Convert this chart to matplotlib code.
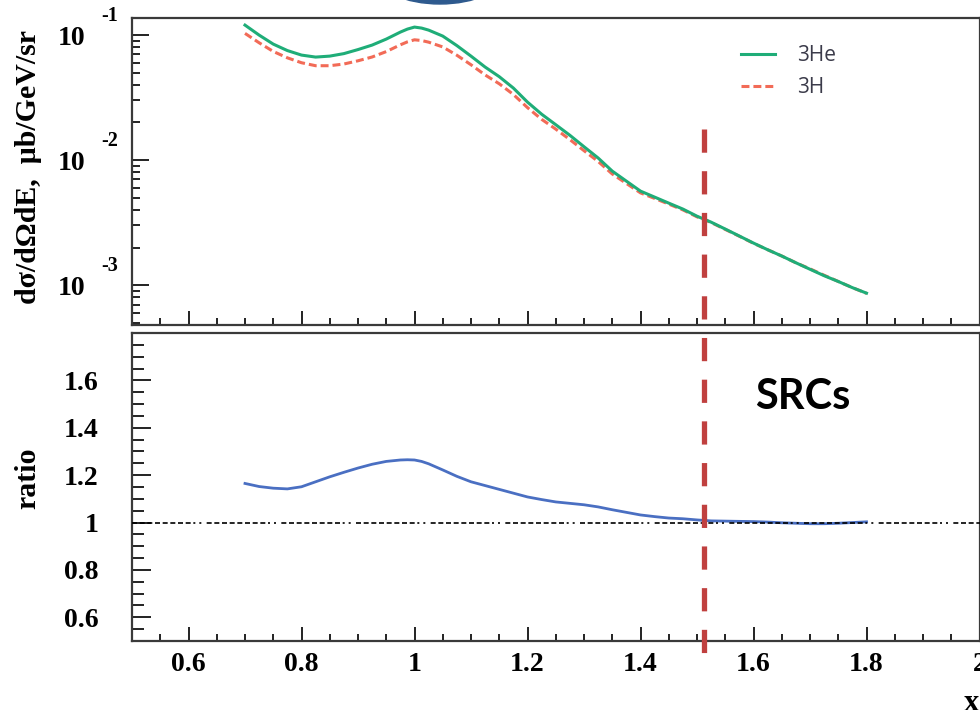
"""Inclusive cross sections of 3He and 3H versus x, with the 3He/3H ratio."""

import matplotlib

matplotlib.use("Agg")

import matplotlib.pyplot as plt
from matplotlib.lines import Line2D
from matplotlib.patches import Ellipse
from matplotlib.ticker import FixedLocator, LogLocator, MultipleLocator, NullFormatter
from matplotlib.transforms import blended_transform_factory


X_BJ = [
    0.700, 0.725, 0.750, 0.775, 0.800, 0.825, 0.850, 0.875, 0.900, 0.925,
    0.950, 0.975, 0.9875, 1.000, 1.0125, 1.025, 1.050, 1.075, 1.100, 1.125, 1.150, 1.175,
    1.200, 1.225, 1.250, 1.275, 1.300, 1.325, 1.350, 1.375, 1.400, 1.425,
    1.450, 1.475, 1.500, 1.525, 1.550, 1.575, 1.600, 1.625, 1.650, 1.675,
    1.700, 1.725, 1.750, 1.775, 1.800,
]
SIGMA_HE3 = [
    0.1202, 0.1000, 0.0847, 0.0752, 0.0692, 0.0667, 0.0679, 0.0711, 0.0766, 0.0832,
    0.0929, 0.1057, 0.1117, 0.1159, 0.1138, 0.1096, 0.0982, 0.0824, 0.0679, 0.0555, 0.0465, 0.0377,
    0.0291, 0.0233, 0.0192, 0.0158, 0.0128, 0.0104, 0.00817, 0.00679, 0.00565, 0.00506,
    0.00453, 0.00406, 0.00356, 0.00319, 0.00281, 0.00247, 0.00217, 0.00192, 0.00171, 0.00151,
    0.00134, 0.00119, 0.00107, 0.000955, 0.000863,
]
SIGMA_H3 = [
    0.1032, 0.0868, 0.0740, 0.0658, 0.0601, 0.0569, 0.0569, 0.0587, 0.0623, 0.0668,
    0.0738, 0.0836, 0.0883, 0.0917, 0.0905, 0.0878, 0.0804, 0.0690, 0.0579, 0.0480, 0.0408, 0.0335,
    0.0263, 0.0212, 0.0177, 0.0146, 0.0119, 0.00976, 0.00775, 0.00651, 0.00547, 0.00494,
    0.00445, 0.00400, 0.00352, 0.00317, 0.00279, 0.00246, 0.00216, 0.00192, 0.00171, 0.00151,
    0.00135, 0.00120, 0.00107, 0.000955, 0.000860,
]
RATIO = [
    1.165, 1.152, 1.145, 1.142, 1.151, 1.172, 1.193, 1.212, 1.230, 1.246,
    1.258, 1.264, 1.265, 1.264, 1.258, 1.248, 1.222, 1.195, 1.172, 1.156, 1.140, 1.124,
    1.108, 1.097, 1.087, 1.081, 1.075, 1.066, 1.054, 1.043, 1.032, 1.025,
    1.019, 1.016, 1.011, 1.007, 1.006, 1.005, 1.004, 1.002, 0.999, 0.997,
    0.995, 0.995, 0.997, 1.000, 1.003,
]

SRC_EDGE = 1.513
DECADES = [-1, -2, -3]
X_TICKS = [0.6, 0.8, 1.0, 1.2, 1.4, 1.6, 1.8, 2.0]
X_LABELS = ["0.6", "0.8", "1", "1.2", "1.4", "1.6", "1.8", "2"]
RATIO_TICKS = [0.6, 0.8, 1.0, 1.2, 1.4, 1.6, 1.8]
RATIO_LABELS = ["0.6", "0.8", "1", "1.2", "1.4", "1.6", ""]

W, H = 980, 710
GREEN = "#1fad78"
RED = "#f26b57"
BLUE = "#4a6fc2"
MARKER_RED = "#c0403f"
INK = "#222222"


def px_box(left, top, right, bottom):
    return [left / W, 1 - bottom / H, (right - left) / W, (bottom - top) / H]


def style_x(ax):
    ax.set_xlim(0.5, 2.0)
    ax.xaxis.set_major_locator(FixedLocator(X_TICKS))
    ax.xaxis.set_minor_locator(MultipleLocator(0.05))
    ax.tick_params(axis="x", which="major", direction="in", length=10, width=1.4, color=INK)
    ax.tick_params(axis="x", which="minor", direction="in", length=5, width=1.4, color=INK)
    for side in ["left", "right", "top", "bottom"]:
        ax.spines[side].set_linewidth(1.6)
        ax.spines[side].set_color("#3a3a3a")


def main() -> None:
    plt.rcParams["font.family"] = ["Liberation Serif", "DejaVu Serif"]
    plt.rcParams["font.weight"] = "bold"
    plt.rcParams["axes.labelweight"] = "bold"

    fig = plt.figure(figsize=(W / 100, H / 100), dpi=100)
    ax_top = fig.add_axes(px_box(132, 18, 979.5, 325))
    ax_bot = fig.add_axes(px_box(132, 333, 979.5, 641))

    # upper panel: cross sections on a log scale
    ax_top.plot(X_BJ, SIGMA_HE3, color=GREEN, lw=2.2, label="3He", zorder=3,
                solid_joinstyle="round")
    ax_top.plot(X_BJ, SIGMA_H3, color=RED, lw=2.2, linestyle=(0, (2.6, 1.3)), label="3H", zorder=2)
    ax_top.set_yscale("log")
    ax_top.set_ylim(4.8e-4, 0.137)
    style_x(ax_top)
    ax_top.tick_params(axis="x", labelbottom=False)
    ax_top.yaxis.set_major_locator(LogLocator(base=10))
    ax_top.yaxis.set_minor_locator(LogLocator(base=10, subs=range(2, 10)))
    ax_top.yaxis.set_major_formatter(NullFormatter())
    ax_top.yaxis.set_minor_formatter(NullFormatter())
    ax_top.tick_params(axis="y", which="major", direction="in", length=12.5, width=1.4, color=INK)
    ax_top.tick_params(axis="y", which="minor", direction="in", length=6, width=1.4, color=INK)
    for e in DECADES:
        ax_top.annotate("10", xy=(0, 10.0 ** e), xycoords=("axes fraction", "data"),
                        xytext=(-43.6, -2.2), textcoords="offset points",
                        ha="center", va="center", fontsize=20, annotation_clip=False)
        ax_top.annotate(f"{e}", xy=(0, 10.0 ** e), xycoords=("axes fraction", "data"),
                        xytext=(-16.0, 13.7), textcoords="offset points",
                        ha="center", va="center", fontsize=14.5, annotation_clip=False)
    ax_top.set_ylabel("d\u03c3/d\u03a9dE,  \u03bcb/GeV/sr", fontsize=21.5)
    ax_top.yaxis.label.set_verticalalignment("center")
    ax_top.yaxis.set_label_coords(-0.1227, 0.515)

    leg = ax_top.legend(loc="upper left", bbox_to_anchor=(741 / W, 1 - 45 / H),
                        bbox_transform=fig.transFigure, frameon=False, borderpad=0,
                        borderaxespad=0, handlelength=1.65, handletextpad=1.05,
                        labelspacing=0.55, prop={"family": "Open Sans", "size": 15, "weight": "normal"})
    for text in leg.get_texts():
        text.set_color("#3b3b4a")

    # lower panel: ratio
    ax_bot.plot(X_BJ, RATIO, color=BLUE, lw=2.0, zorder=2, solid_joinstyle="round")
    ax_bot.axhline(1.0, color="black", lw=1.2, zorder=3, dash_capstyle="butt",
                   linestyle=(0, (3.0, 1.6) * 8 + (1.2, 2.4, 1.2, 3.2)))
    ax_bot.set_ylim(0.5, 1.8)
    style_x(ax_bot)
    ax_bot.set_xticklabels(X_LABELS)
    ax_bot.yaxis.set_major_locator(FixedLocator(RATIO_TICKS))
    ax_bot.set_yticklabels(RATIO_LABELS)
    ax_bot.yaxis.set_minor_locator(MultipleLocator(0.05))
    ax_bot.tick_params(axis="y", which="major", direction="in", length=14, width=1.4, color=INK, pad=24)
    ax_bot.tick_params(axis="y", which="minor", direction="in", length=8.5, width=1.4, color=INK)
    ax_bot.tick_params(axis="both", which="major", labelsize=20)
    ax_bot.tick_params(axis="x", which="major", pad=8)
    ax_bot.set_ylabel("ratio", fontsize=21.5)
    ax_bot.yaxis.label.set_verticalalignment("center")
    ax_bot.yaxis.set_label_coords(-0.1227, 0.529)
    ax_bot.set_xlabel("x", loc="right", fontsize=22)
    ax_bot.xaxis.set_label_coords(1.0, -0.155)

    ax_bot.text(1.688, 1.48, "SRCs", family="Lato", weight="bold", size=30,
                color="black", ha="center", va="baseline")

    # boundary of the short-range-correlation region, spanning both panels
    edge = Line2D([SRC_EDGE, SRC_EDGE], [1 - 129 / H, 1 - 657 / H],
                  transform=blended_transform_factory(ax_bot.transData, fig.transFigure),
                  color=MARKER_RED, lw=3.8, linestyle=(0, (4.4, 3.5)),
                  solid_capstyle="butt", dash_capstyle="butt", zorder=10)
    fig.add_artist(edge)

    fig.add_artist(Ellipse((440 / W, 1 + 26 / H), 128 / W, 60 / H,
                           transform=fig.transFigure, color="#2e5a8e", zorder=10))

    fig.savefig("out.png", dpi=100)
    plt.close(fig)


if __name__ == "__main__":
    main()
